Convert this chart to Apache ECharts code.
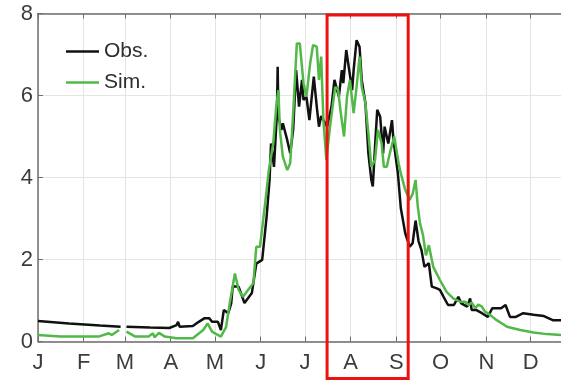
<!DOCTYPE html>
<html>
<head>
<meta charset="utf-8">
<script src="https://cdn.jsdelivr.net/npm/echarts@6/dist/echarts.min.js"></script>
<style>
  html, body { margin: 0; padding: 0; background: #fff; }
  #chart { width: 561px; height: 381px; }
</style>
</head>
<body>
<div id="chart"></div>
<script>
// Day-of-year axis: month starts and their one-letter labels
const monthStarts = [0, 31, 59, 90, 120, 151, 181, 212, 243, 273, 304, 334];
const monthLabels = ['J', 'F', 'M', 'A', 'M', 'J', 'J', 'A', 'S', 'O', 'N', 'D'];
// Visible window of the year (days)
const dayRange = [0, 354.6];

// Observed discharge (day of year, value); null marks the missing record
const obsDays = [0, 21, 42, 56, 58, 60, 76, 89, 94, 95, 96, 105, 109, 113, 116, 118, 122, 124, 126, 129, 131, 132, 136, 140, 145, 148, 152, 155, 157, 158, 160, 162, 162.5, 163, 165, 166, 169, 171, 173, 175, 177, 179, 180, 182, 184, 187, 189, 190.5, 192, 196, 199, 201, 204, 206, 207, 209, 211, 213, 214, 216, 218, 219.5, 222, 224, 226, 227, 228.5, 230, 232, 234, 235, 237.5, 240, 241, 244, 246, 249, 252, 254, 256, 258, 260, 262, 265, 267, 270, 272.5, 275, 278, 282, 285, 287, 291, 293, 294, 297, 301, 305, 308, 311, 314, 317, 320, 324, 329, 336, 343, 349, 355];
const obsValues = [0.50, 0.44, 0.39, 0.36, null, 0.36, 0.34, 0.33, 0.40, 0.48, 0.36, 0.38, 0.48, 0.57, 0.57, 0.48, 0.48, 0.28, 0.77, 0.69, 0.93, 1.34, 1.34, 0.94, 1.18, 1.90, 1.99, 3.04, 3.94, 4.83, 4.26, 5.57, 6.70, 5.48, 5.16, 5.32, 4.91, 4.59, 5.16, 6.62, 5.73, 6.38, 5.89, 5.97, 5.40, 6.46, 5.73, 5.24, 5.50, 5.24, 5.73, 6.38, 5.97, 6.62, 6.30, 7.11, 6.62, 6.13, 6.62, 7.35, 7.19, 6.38, 5.81, 4.59, 3.94, 3.78, 4.75, 5.65, 5.48, 4.59, 5.24, 4.83, 5.40, 4.91, 4.10, 3.25, 2.64, 2.31, 2.40, 2.95, 2.45, 2.23, 1.82, 1.91, 1.34, 1.30, 1.26, 1.09, 0.89, 0.89, 1.09, 0.93, 0.85, 1.05, 0.77, 0.77, 0.69, 0.60, 0.81, 0.81, 0.81, 0.89, 0.60, 0.60, 0.69, 0.65, 0.62, 0.52, 0.52];

// Simulated discharge (day of year, value)
const simDays = [0, 15, 41, 48, 50, 55, 58, 60, 66, 75, 78, 79, 82, 86, 94, 105, 112, 115, 118, 120, 124, 127.5, 130, 133.5, 136, 139, 142.5, 146, 148, 150.5, 154, 156.5, 158, 159.5, 161.5, 163, 164, 166, 169, 171, 173, 175.5, 177.5, 180, 182, 184.5, 186.5, 189, 190.5, 192, 193.5, 195.5, 198, 201.5, 203.5, 205, 207.5, 209.5, 211.5, 214, 216, 218, 219.5, 222, 224, 226, 228.5, 230.5, 233, 234.5, 236.5, 238.5, 241.5, 244.5, 246, 249, 252, 254, 256, 257.5, 259, 261, 263, 265, 268, 272.5, 277, 281.5, 286, 289.5, 292, 294, 296.5, 298.5, 301, 303, 306.5, 311, 318, 327, 336, 345, 355];
const simValues = [0.16, 0.12, 0.12, 0.20, 0.16, 0.28, null, 0.24, 0.12, 0.12, 0.20, 0.10, 0.21, 0.12, 0.08, 0.08, 0.28, 0.44, 0.24, 0.20, 0.12, 0.35, 0.93, 1.66, 1.26, 1.09, 1.26, 1.42, 2.31, 2.31, 3.37, 4.18, 4.51, 4.83, 5.73, 6.13, 5.16, 4.51, 4.18, 4.35, 5.57, 7.27, 7.27, 6.30, 5.97, 6.78, 7.23, 7.19, 6.38, 6.95, 5.40, 4.43, 5.24, 6.21, 6.13, 5.65, 5.00, 5.97, 6.38, 5.57, 6.21, 6.95, 6.21, 5.81, 5.08, 4.26, 4.43, 5.16, 4.83, 4.26, 4.26, 4.59, 5.00, 4.35, 4.10, 3.70, 3.45, 3.60, 3.94, 3.29, 2.88, 2.60, 2.10, 2.35, 1.82, 1.50, 1.21, 1.05, 0.97, 0.97, 0.89, 0.95, 0.81, 0.90, 0.85, 0.73, 0.65, 0.52, 0.36, 0.28, 0.22, 0.18, 0.16];

// Highlighted period (Aug–Sep), in day of year
const highlightDays = [196, 251];

const pair = (xs, ys) => xs.map((d, i) => [d, ys[i]]);

const chart = echarts.init(document.getElementById('chart'), null, { renderer: 'canvas' });

const axisColor = '#6e6e6e';
const gridColor = '#e4e4e4';
const labelFont = { fontFamily: 'Liberation Sans', fontSize: 22, color: '#3c3c3c' };

const monthAxis = (position, showLabels) => ({
  type: 'value', position, min: dayRange[0], max: dayRange[1],
  axisLine: { onZero: false, lineStyle: { color: axisColor, width: 1.5 } },
  axisTick: { inside: true, length: 5, customValues: monthStarts, lineStyle: { color: axisColor, width: 1 } },
  axisLabel: showLabels ? {
    customValues: monthStarts, margin: 10, ...labelFont,
    formatter: v => monthLabels[monthStarts.indexOf(v)] || ''
  } : { show: false },
  splitLine: { show: showLabels, lineStyle: { color: gridColor, width: 1 } }
});

chart.setOption({
  animation: false,
  backgroundColor: '#ffffff',
  grid: { left: 38, top: 13.5, right: 0, height: 328, containLabel: false },
  legend: {
    orient: 'vertical',
    left: 66,
    top: 41,
    padding: 0,
    icon: 'rect',
    itemWidth: 33,
    itemHeight: 2.4,
    itemGap: 10,
    textStyle: { fontFamily: 'Liberation Sans', fontSize: 21, color: '#2e2e2e', lineHeight: 20 },
    data: ['Obs.', 'Sim.']
  },
  xAxis: [monthAxis('bottom', true), monthAxis('top', false)],
  yAxis: {
    type: 'value', min: 0, max: 8, interval: 2,
    axisLine: { show: true, lineStyle: { color: axisColor, width: 1.5 } },
    axisTick: { show: true, inside: true, length: 5, lineStyle: { color: axisColor, width: 1 } },
    axisLabel: { margin: 5, ...labelFont },
    splitLine: { show: true, lineStyle: { color: gridColor, width: 1 } }
  },
  series: [
    {
      name: 'Obs.', type: 'line', symbol: 'none', connectNulls: false,
      data: pair(obsDays, obsValues),
      lineStyle: { color: '#111111', width: 2.5 },
      itemStyle: { color: '#111111' }
    },
    {
      name: 'Sim.', type: 'line', symbol: 'none', connectNulls: false,
      data: pair(simDays, simValues),
      lineStyle: { color: '#52b848', width: 2.5 },
      itemStyle: { color: '#52b848' }
    }
  ]
});

// Red frame around the highlighted months, reaching below the axis labels
const x0 = chart.convertToPixel({ xAxisIndex: 0 }, highlightDays[0]);
const x1 = chart.convertToPixel({ xAxisIndex: 0 }, highlightDays[1]);
chart.setOption({
  graphic: [{
    type: 'rect', z: 100,
    shape: { x: x0, y: 15, width: x1 - x0, height: 363.5 },
    style: { fill: 'none', stroke: '#ee1111', lineWidth: 3 }
  }]
});
</script>
</body>
</html>
